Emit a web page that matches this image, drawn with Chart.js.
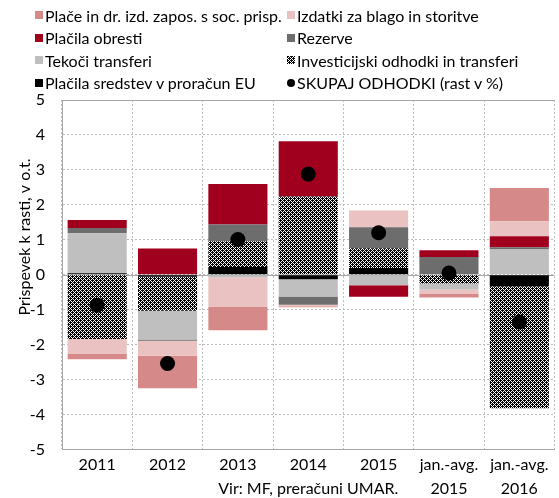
<!DOCTYPE html>
<html lang="sl">
<head>
<meta charset="utf-8">
<title>Prispevki k rasti odhodkov</title>
<script src="https://cdn.jsdelivr.net/npm/chart.js@4.4.1/dist/chart.umd.min.js"></script>
<style>
  html, body { margin: 0; padding: 0; background: #fff; overflow: hidden; }
  #wrap { position: relative; width: 559px; height: 498px; overflow: hidden; }
  #odhodkiChart { position: absolute; left: 0; top: 0; }
  #legenda {
    position: absolute; left: 35px; top: 4px;
    display: grid; grid-template-columns: 252px auto; grid-auto-rows: 22.5px;
    font: 16px Lato, sans-serif; color: #000;
  }
  .postavka { display: flex; align-items: center; white-space: nowrap; }
  .znak { width: 8px; height: 8px; margin-right: 2px; flex: none; }
  .pika { border-radius: 50%; }
</style>
</head>
<body>
<div id="wrap">
  <canvas id="odhodkiChart" width="562" height="498"></canvas>
  <div id="legenda"></div>
</div>
<script>
// kategorije in prispevki k rasti (odstotne točke)
const kategorije = ['2011', '2012', '2013', '2014', '2015', ['jan.-avg.', '2015'], ['jan.-avg.', '2016']];
const sredstvaEU = [0.04, -0.06, 0.22, -0.13, 0.19, 0, -0.33];
const investicijski = [-1.84, -0.97, 0.74, 2.24, 0.57, -0.25, -3.49];
const tekociTransferi = [1.15, -0.82, -0.08, -0.49, -0.30, -0.17, 0.72];
const rezerve = [0.15, -0.04, 0.48, -0.24, 0.60, 0.51, 0.07];
const obresti = [0.23, 0.75, 1.16, 1.58, -0.33, 0.19, 0.31];
const izdatki = [-0.43, -0.43, -0.84, -0.04, 0.48, -0.13, 0.43];
const place = [-0.15, -0.93, -0.67, -0.03, 0, -0.10, 0.95];
const skupaj = [-0.87, -2.54, 1.01, 2.88, 1.20, 0.05, -1.35];
const yMin = -5, yMax = 5, yKorak = 1;

const pisava = 'Lato, sans-serif';

// šrafura za investicijske odhodke
function sraftura() {
    const c = document.createElement('canvas');
    c.width = 4; c.height = 4;
    const g = c.getContext('2d');
    g.fillStyle = '#fff';
    g.fillRect(0, 0, 4, 4);
    g.fillStyle = '#000';
    [[0,0],[1,0],[3,0],[0,1],[2,1],[1,2],[2,2],[3,2],[0,3],[2,3]].forEach(([x, y]) => g.fillRect(x, y, 1, 1));
    return c;
}
const vzorecCanvas = sraftura();
const ctx = document.getElementById('odhodkiChart').getContext('2d');
const vzorec = ctx.createPattern(vzorecCanvas, 'repeat');

// legenda v dveh stolpcih
const legenda = [
    { t: 'Plače in dr. izd. zapos. s soc. prisp.', c: '#D58A89' },
    { t: 'Izdatki za blago in storitve', c: '#EBC2C2' },
    { t: 'Plačila obresti', c: '#A0001E' },
    { t: 'Rezerve', c: '#6D6D6D' },
    { t: 'Tekoči transferi', c: '#BFBFBF' },
    { t: 'Investicijski odhodki in transferi', img: vzorecCanvas.toDataURL() },
    { t: 'Plačila sredstev v proračun EU', c: '#000' },
    { t: 'SKUPAJ ODHODKI (rast v %)', c: '#000', pika: true }
];
const legEl = document.getElementById('legenda');
legenda.forEach(l => {
    const el = document.createElement('div');
    el.className = 'postavka';
    const z = document.createElement('span');
    z.className = 'znak' + (l.pika ? ' pika' : '');
    if (l.img) z.style.backgroundImage = 'url(' + l.img + ')';
    else z.style.background = l.c;
    el.appendChild(z);
    el.appendChild(document.createTextNode(l.t));
    legEl.appendChild(el);
});

// zgornji okvir, ničelna črta, naslov osi y in vir
const okvir = {
    id: 'okvir',
    beforeDatasetsDraw(chart) {
        const { ctx, chartArea: { left, right, top }, scales: { y } } = chart;
        const y0 = Math.round(y.getPixelForValue(0)) + 0.5;
        ctx.save();
        ctx.strokeStyle = '#A6A6A6';
        ctx.lineWidth = 1;
        ctx.beginPath();
        ctx.moveTo(left, Math.round(top) + 0.5);
        ctx.lineTo(right, Math.round(top) + 0.5);
        ctx.moveTo(left, y0);
        ctx.lineTo(right, y0);
        ctx.stroke();
        ctx.restore();
    },
    afterDraw(chart) {
        const { ctx, scales: { x } } = chart;
        ctx.save();
        ctx.fillStyle = '#000';
        ctx.font = '16px ' + pisava;
        ctx.textAlign = 'center';
        ctx.textBaseline = 'middle';
        ctx.fillText('Vir: MF, preračuni UMAR.', x.getPixelForValue(3), 489);
        ctx.translate(25, 237);
        ctx.rotate(-Math.PI / 2);
        ctx.fillText('Prispevek k rasti, v o.t.', 0, 0);
        ctx.restore();
    }
};

const stolpec = { stack: 'odhodki', order: 1, borderWidth: 0, barPercentage: 0.84, categoryPercentage: 1 };

new Chart(ctx, {
    type: 'bar',
    data: {
        labels: kategorije,
        datasets: [
            {
                type: 'line', label: 'SKUPAJ ODHODKI (rast v %)', data: skupaj,
                showLine: false, pointRadius: 7.5, pointHoverRadius: 7.5,
                pointBackgroundColor: '#000', pointBorderWidth: 0, borderColor: '#000',
                stack: 'skupaj', order: 0
            },
            { ...stolpec, label: 'Plačila sredstev v proračun EU', data: sredstvaEU, backgroundColor: '#000' },
            { ...stolpec, label: 'Investicijski odhodki in transferi', data: investicijski, backgroundColor: vzorec },
            { ...stolpec, label: 'Tekoči transferi', data: tekociTransferi, backgroundColor: '#BFBFBF' },
            { ...stolpec, label: 'Rezerve', data: rezerve, backgroundColor: '#6D6D6D' },
            { ...stolpec, label: 'Plačila obresti', data: obresti, backgroundColor: '#A0001E' },
            { ...stolpec, label: 'Izdatki za blago in storitve', data: izdatki, backgroundColor: '#EBC2C2' },
            { ...stolpec, label: 'Plače in dr. izd. zapos. s soc. prisp.', data: place, backgroundColor: '#D58A89' }
        ]
    },
    options: {
        responsive: false,
        animation: false,
        layout: { padding: { top: 100, right: 0, bottom: 0, left: 0 } },
        plugins: {
            legend: { display: false },
            tooltip: { enabled: true }
        },
        scales: {
            x: {
                stacked: true,
                grid: { color: '#BDBDBD', drawTicks: false, offset: true },
                border: { color: '#A6A6A6', width: 1, dash: [2, 2] },
                ticks: {
                    color: '#000', padding: 3.5, maxRotation: 0, autoSkip: false,
                    font: { family: pisava, size: 16, lineHeight: 1.5 }
                },
                afterFit: s => { s.height = 48.5; }
            },
            y: {
                stacked: true,
                min: yMin,
                max: yMax,
                grid: { color: '#BDBDBD', drawTicks: false },
                border: { color: '#A6A6A6', width: 1, dash: [2, 2] },
                ticks: {
                    stepSize: yKorak, color: '#000', padding: 17,
                    font: { family: pisava, size: 16 }
                },
                afterFit: s => { s.width = 62; }
            }
        }
    },
    plugins: [okvir]
});
</script>
</body>
</html>
